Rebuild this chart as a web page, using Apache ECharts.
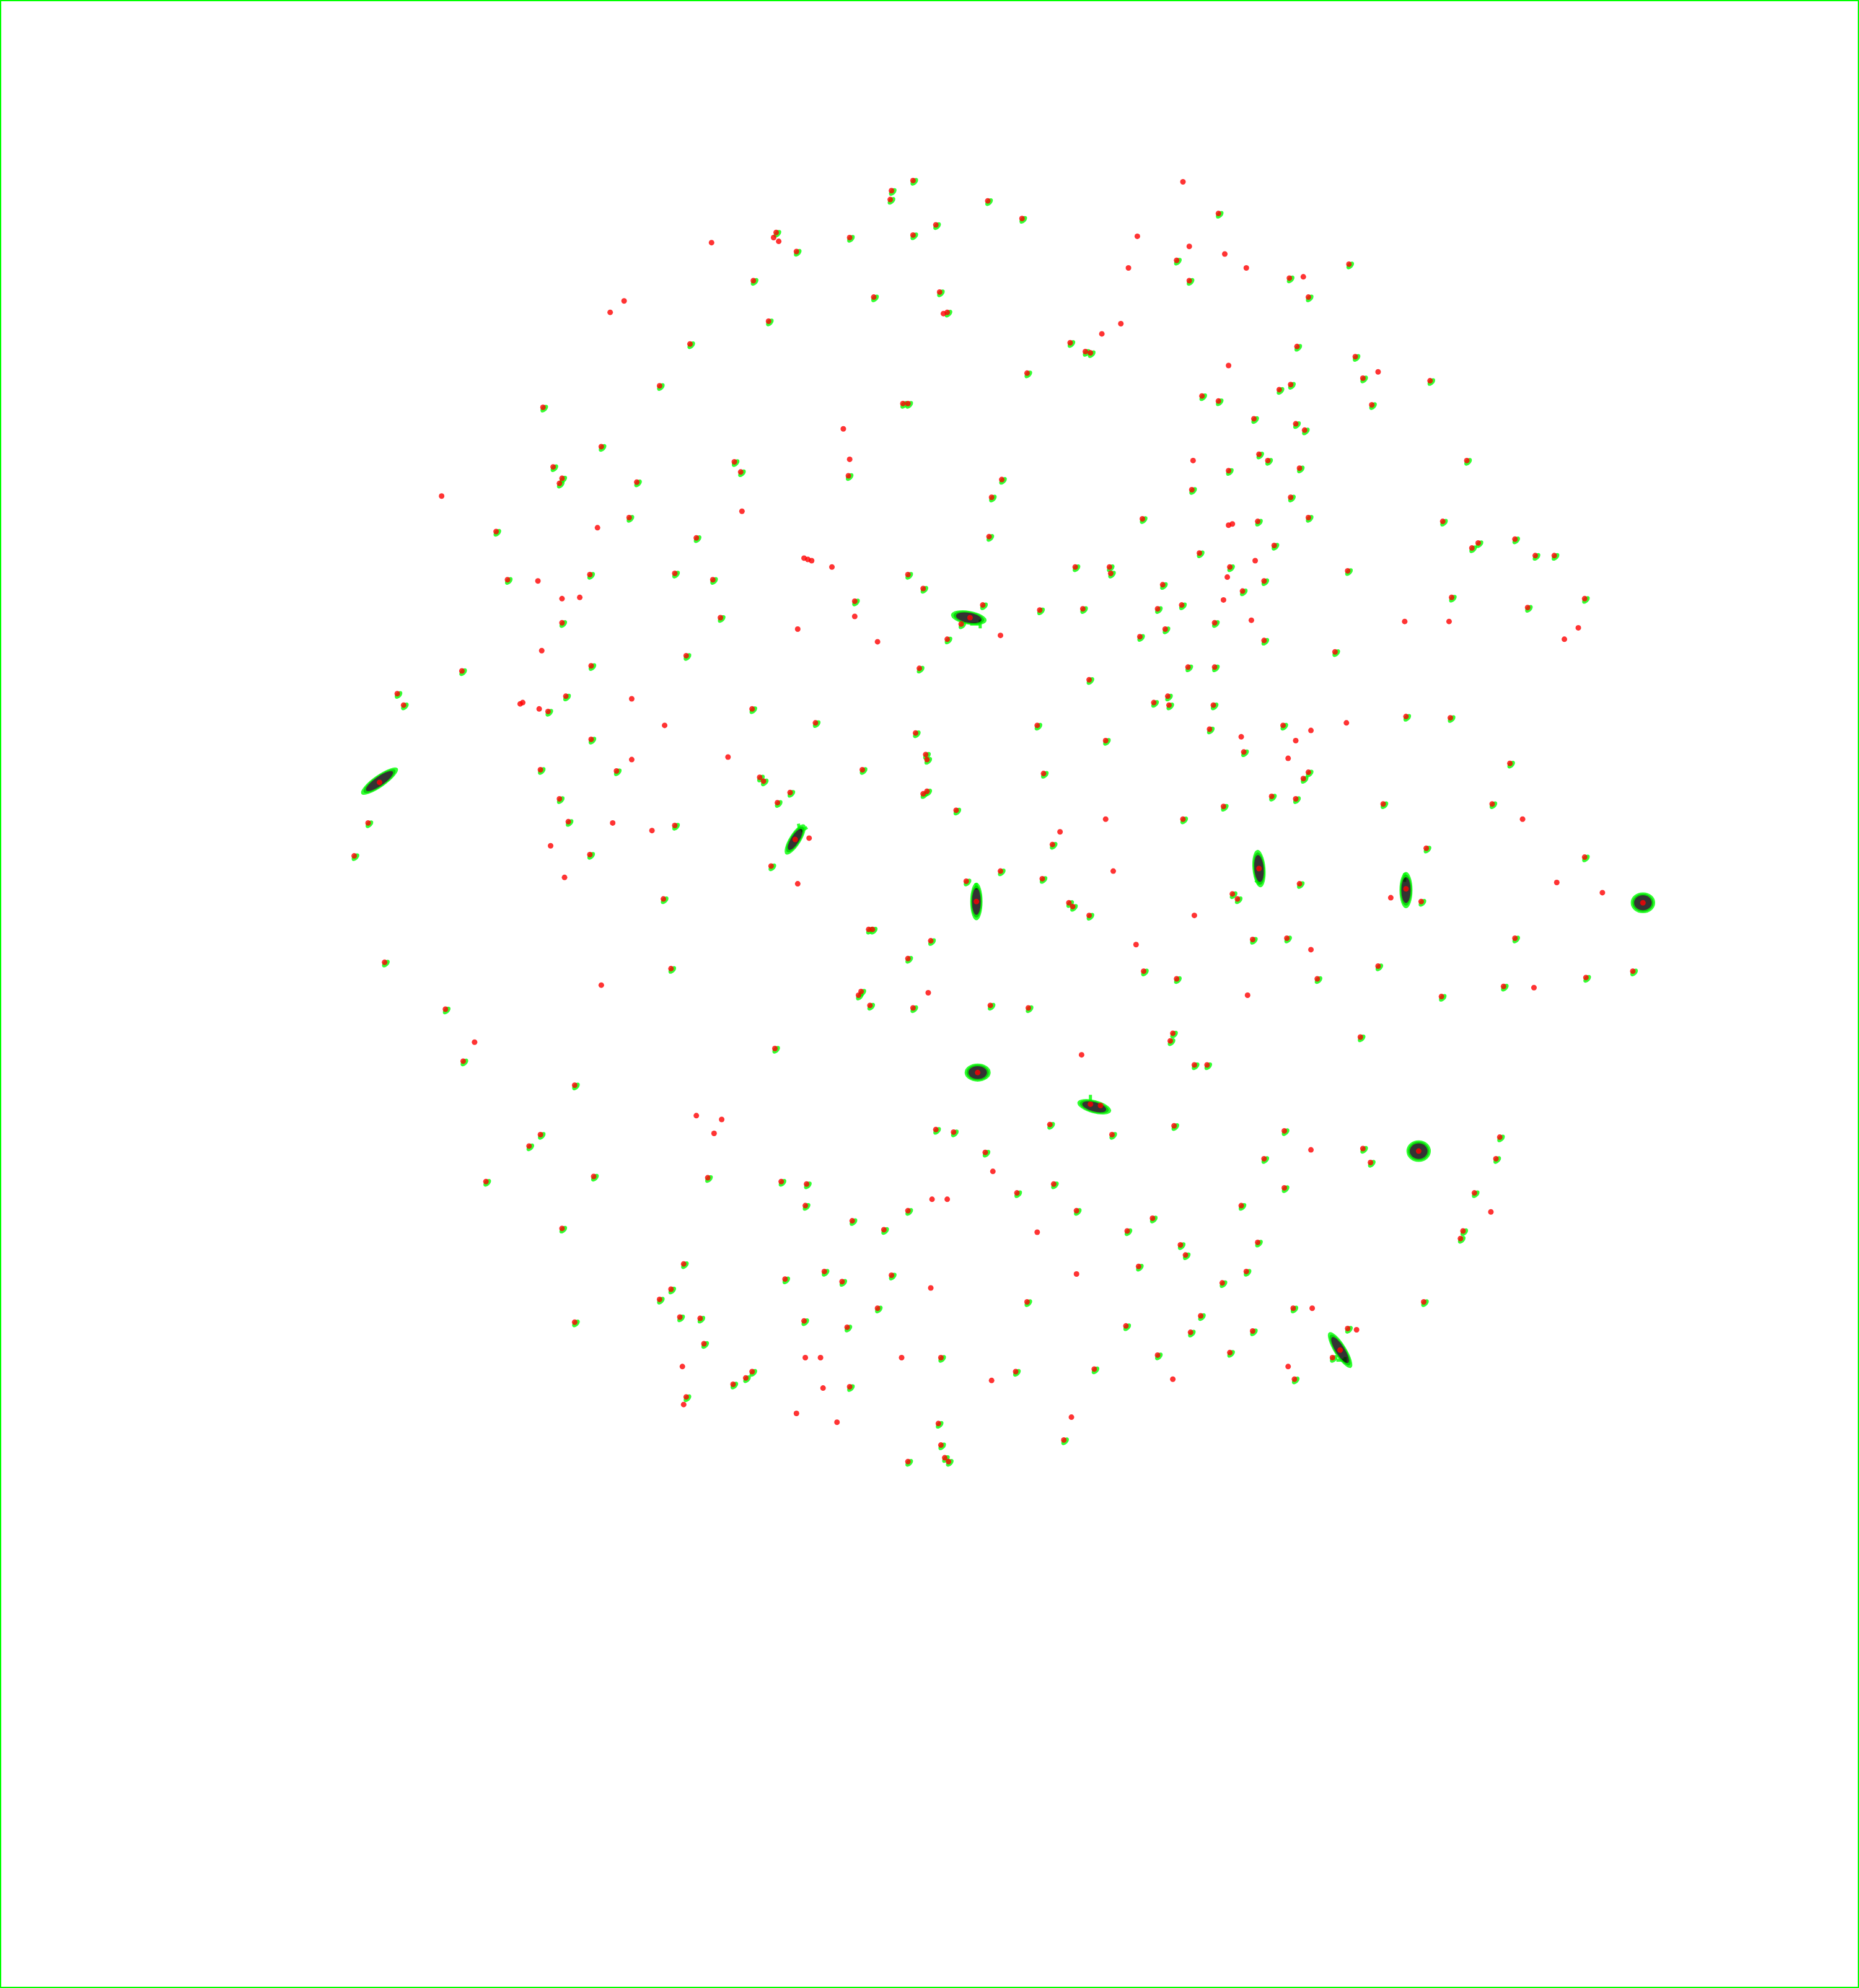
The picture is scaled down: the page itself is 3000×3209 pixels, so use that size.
<!DOCTYPE html>
<html><head><meta charset="utf-8">
<script src="https://cdn.jsdelivr.net/npm/echarts@6/dist/echarts.min.js"></script>
<style>html,body{margin:0;padding:0;background:#fff}#c{width:3000px;height:3209px}</style>
</head><body><div id="c"></div>
<script>
// image coordinates (0..1466 x 0..1568), [x, y, hasHalo]
const cells = [
[720,142,1],[703,150,1],[702,157,1],[933,143,0],[779,158,1],[961,168,1],[806,172,1],[738,177,1],
[612,183,1],[610,187,0],[614,190,0],[720,185,1],[670,187,1],[897,186,0],[561,191,0],[628,198,1],
[938,194,0],[966,200,0],[928,205,1],[890,211,0],[983,211,0],[1064,208,1],[594,221,1],[1017,219,1],
[1028,218,0],[938,221,1],[741,230,1],[689,234,1],[1032,234,1],[492,237,0],[481,246,0],[747,246,1],
[744,247,0],[606,253,1],[884,255,0],[869,263,0],[844,270,1],[856,277,1],[860,278,1],[544,271,1],
[1023,273,1],[1069,281,1],[1128,300,1],[969,288,0],[1087,293,0],[1075,298,1],[810,294,1],[520,304,1],
[1018,303,1],[1009,307,1],[948,312,1],[961,316,1],[712,318,1],[716,318,1],[1082,319,1],[428,321,1],
[989,330,1],[1022,334,1],[1029,339,1],[665,338,0],[474,352,1],[993,358,1],[670,362,0],[1000,363,1],
[941,363,0],[579,364,1],[436,368,1],[1157,363,1],[584,372,1],[669,375,1],[1025,369,1],[969,371,1],
[443,377,1],[441,381,1],[790,378,1],[502,380,1],[940,386,1],[782,392,1],[348,391,0],[1018,392,1],
[585,403,0],[901,409,1],[496,408,1],[1032,408,1],[1138,411,1],[992,411,1],[969,414,0],[972,413,0],
[391,419,1],[471,416,0],[780,423,1],[549,424,1],[1195,425,1],[1166,428,1],[1161,432,1],[1005,430,1],
[946,436,1],[634,440,0],[640,442,0],[637,441,0],[1211,438,1],[1226,438,1],[990,442,0],[970,447,1],
[656,447,0],[848,447,1],[875,447,1],[876,452,1],[532,452,1],[716,453,1],[968,455,0],[1063,450,1],
[465,453,1],[400,457,1],[424,458,0],[562,457,1],[997,458,1],[728,464,1],[917,461,1],[980,466,1],
[1145,471,1],[1250,472,1],[674,474,1],[443,472,0],[457,471,0],[775,477,1],[965,473,0],[932,477,1],
[913,480,1],[854,480,1],[820,481,1],[1205,479,1],[674,486,0],[765,487,0],[758,492,1],[443,491,1],
[568,487,1],[958,491,1],[987,489,0],[1143,490,0],[1108,490,0],[919,496,1],[629,496,0],[1245,495,0],
[747,504,1],[789,501,0],[899,502,1],[692,506,0],[997,505,1],[1234,504,0],[427,513,0],[1053,514,1],
[541,517,1],[466,525,1],[937,526,1],[958,526,1],[364,529,1],[725,527,1],[859,536,1],[313,547,1],
[318,556,1],[446,549,1],[921,549,1],[922,556,1],[498,551,0],[410,555,0],[412,554,0],[425,559,0],
[432,561,1],[910,554,1],[593,559,1],[957,556,1],[1109,565,1],[1144,566,1],[1062,570,0],[524,572,0],
[643,570,1],[818,572,1],[954,575,1],[1012,572,1],[1034,576,0],[722,578,1],[979,581,0],[466,583,1],
[872,584,1],[1022,584,0],[730,595,1],[731,599,1],[574,597,0],[981,593,1],[1191,602,1],[498,599,0],
[486,608,1],[426,607,1],[680,607,1],[1032,609,1],[1028,614,1],[599,613,1],[602,616,1],[823,610,1],
[299,617,0],[1016,598,0],[441,630,1],[731,624,1],[728,626,1],[623,625,1],[1003,628,1],[1022,630,1],
[613,633,1],[1177,634,1],[1091,634,1],[965,636,1],[754,639,1],[448,648,1],[290,649,1],[532,651,1],
[933,646,1],[872,646,0],[1201,646,0],[483,649,0],[514,655,0],[627,662,0],[638,661,0],[836,656,0],
[1125,669,1],[434,667,0],[830,666,1],[279,675,1],[465,674,1],[1250,676,1],[993,685,0],[789,687,1],
[878,687,0],[608,683,1],[445,692,0],[822,693,1],[762,695,1],[1025,697,1],[1228,696,0],[629,697,0],
[972,705,1],[976,709,1],[1109,701,0],[1097,708,0],[1121,711,1],[1296,712,0],[1264,704,0],[770,711,0],
[843,712,1],[846,715,1],[523,709,1],[859,722,1],[942,722,0],[685,733,1],[688,733,1],[734,742,1],
[988,741,1],[1015,740,1],[1195,740,1],[896,745,0],[1034,749,0],[716,756,1],[303,759,1],[1087,762,1],
[902,766,1],[1288,766,1],[928,772,1],[1039,772,1],[1251,771,1],[529,764,1],[474,777,0],[1186,778,1],
[1210,779,0],[679,782,1],[677,785,1],[732,783,0],[984,785,0],[1137,786,1],[351,796,1],[686,793,1],
[720,795,1],[781,793,1],[811,795,1],[925,815,1],[923,821,1],[1073,818,1],[374,822,0],[611,827,1],
[853,832,0],[365,837,1],[942,840,1],[952,840,1],[771,846,0],[453,856,1],[868,872,0],[860,871,0],
[549,880,0],[569,883,0],[828,887,1],[926,888,1],[877,895,1],[563,894,0],[738,891,1],[752,893,1],
[426,895,1],[1013,892,1],[1183,897,1],[417,904,1],[1119,908,0],[1075,906,1],[1081,917,1],[1034,907,0],
[997,914,1],[777,909,1],[1180,914,1],[783,924,0],[383,932,1],[468,928,1],[558,929,1],[616,932,1],
[636,934,1],[831,934,1],[1013,937,1],[802,941,1],[1163,941,1],[735,946,0],[747,946,0],[635,951,1],
[716,955,1],[849,955,1],[979,951,1],[1176,956,0],[909,961,1],[672,963,1],[697,970,1],[889,971,1],
[818,972,0],[1154,971,1],[443,969,1],[1152,977,1],[931,982,1],[935,990,1],[992,980,1],[539,997,1],
[898,999,1],[650,1003,1],[703,1006,1],[849,1005,0],[983,1003,1],[619,1009,1],[664,1011,1],[964,1012,1],
[529,1017,1],[734,1016,0],[520,1025,1],[810,1027,1],[1123,1027,1],[692,1032,1],[1020,1032,1],[1035,1032,0],
[536,1039,1],[552,1040,1],[453,1043,1],[634,1042,1],[947,1038,1],[888,1046,1],[668,1047,1],[988,1050,1],
[939,1051,1],[1063,1048,1],[1070,1049,0],[1057,1065,0],[1051,1071,1],[555,1060,1],[970,1067,1],[913,1069,1],
[635,1071,0],[647,1071,0],[711,1071,0],[742,1071,1],[538,1078,0],[1016,1078,0],[863,1080,1],[593,1082,1],
[801,1082,1],[588,1087,1],[578,1092,1],[782,1089,0],[925,1088,0],[1021,1088,1],[649,1095,0],[670,1094,1],
[541,1102,1],[539,1108,0],[628,1115,0],[845,1118,0],[660,1122,0],[740,1123,1],[839,1136,1],[742,1140,1],
[745,1150,1],[748,1153,1],[716,1153,1]
];
// large segmented blobs: [x, y, length, width, angle]
const blobs = [
[764,487,50,19,-10],[299,616,62,17,35],[627,662,48,16,58],[770,711,52,17,90],
[993,685,52,18,95],[1109,702,50,18,90],[1296,712,34,29,0],[771,846,36,25,0],
[863,873,48,18,-15],[1119,908,34,30,0],[1057,1065,58,17,-58]
];
// short protrusions attached to some blobs: [x, y, length, angle]
const tails = [
[773,492,14,90],[769,492,16,0],[634,654,12,30],[630,652,10,100],[770,699,10,100],
[1108,692,14,90],[1057,1073,12,0],[1061,1073,10,90],[860,866,10,90],[992,696,10,-45]
];

const chart = echarts.init(document.getElementById('c'), null, {renderer:'canvas'});
chart.setOption({
  animation:false,
  backgroundColor:'#ffffff',
  grid:{left:1,right:1,top:1,bottom:1,show:true,borderColor:'#00ff00',borderWidth:2,backgroundColor:'transparent'},
  xAxis:{type:'value',min:0,max:1466,show:false},
  yAxis:{type:'value',min:0,max:1568,inverse:true,show:false},
  series:[
    {type:'scatter',data:cells.filter(c=>c[2]===1).map(c=>[c[0]+1,c[1]+1]),symbol:'circle',
     symbolSize:[15,9],symbolRotate:45,itemStyle:{color:'#00ff00'},silent:true},
    {type:'scatter',data:tails.map(t=>({value:[t[0],t[1]],symbolSize:[t[2],5],symbolRotate:t[3]})),
     symbol:'rect',itemStyle:{color:'#00ff00'},silent:true},
    {type:'scatter',data:blobs.map(b=>({value:[b[0],b[1]],symbolSize:[b[2],b[3]],symbolRotate:b[4]})),
     symbol:'circle',itemStyle:{color:'#000000',borderColor:'#00ff00',borderWidth:5},silent:true},
    {type:'scatter',data:cells.map(c=>[c[0],c[1]]),symbol:'circle',symbolSize:9,
     itemStyle:{color:'#ff0000'},silent:true}
  ]
});
</script></body></html>
